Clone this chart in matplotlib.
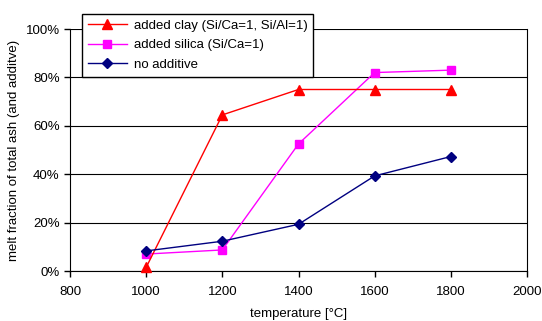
import matplotlib
matplotlib.use("Agg")
import matplotlib.pyplot as plt
from matplotlib.ticker import PercentFormatter

plt.rcParams['font.family'] = ['Liberation Sans', 'DejaVu Sans']

temps = [1000, 1200, 1400, 1600, 1800]
clay = [1.5, 64.5, 75, 75, 75]
silica = [7, 8.7, 52.5, 82, 83]
no_add = [8.3, 12.3, 19.3, 39.3, 47.3]
xticks = [800, 1000, 1200, 1400, 1600, 1800, 2000]
yticks = [0, 20, 40, 60, 80, 100]

fs = 9.5
fig = plt.figure(figsize=(5.42, 3.21), dpi=100)
ax = fig.add_axes([70/542, 1-271/321, (527-70)/542, (271-29)/321])

ax.plot(temps, clay, color='#ff0000', lw=1, marker='^', ms=7, label='added clay (Si/Ca=1, Si/Al=1)', clip_on=False, zorder=5)
ax.plot(temps, silica, color='#ff00ff', lw=1, marker='s', ms=6, label='added silica (Si/Ca=1)', clip_on=False, zorder=4)
ax.plot(temps, no_add, color='#000080', lw=1, marker='D', ms=5.5, label='no additive', clip_on=False, zorder=6)

ax.set_xlim(800, 2000)
ax.set_ylim(0, 100)
ax.set_xticks(xticks)
ax.set_yticks(yticks)
ax.yaxis.set_major_formatter(PercentFormatter(decimals=0))
ax.grid(axis='y', color='black', lw=0.8)
ax.set_axisbelow(True)
ax.spines['top'].set_visible(False)
ax.spines['right'].set_color('black')
ax.tick_params(labelsize=fs, length=4, width=1, direction='out')
ax.tick_params(axis='x', pad=7)
ax.set_xlabel('temperature [°C]', fontsize=fs, labelpad=7)
ax.set_ylabel('melt fraction of total ash (and additve)', fontsize=fs, labelpad=4)

leg = fig.legend(loc='upper left', bbox_to_anchor=(75/542, 1-7/321), fontsize=fs,
                 frameon=True, fancybox=False, edgecolor='black', framealpha=1,
                 borderpad=0.45, labelspacing=0.55, handlelength=3, handletextpad=0.5)
leg.get_frame().set_linewidth(1)

fig.savefig('out.png', dpi=100)
